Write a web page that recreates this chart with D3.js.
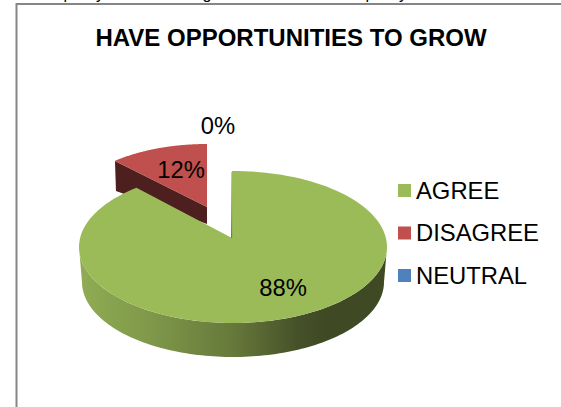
<!DOCTYPE html>
<html>
<head>
<meta charset="utf-8">
<script src="https://cdn.jsdelivr.net/npm/d3@7"></script>
<style>
  html, body { margin: 0; padding: 0; background: #fff; }
  svg { display: block; }
  text { font-family: "Liberation Sans", Arial, sans-serif; fill: #000; }
</style>
</head>
<body>
<svg id="chart" width="561" height="407"></svg>
<script>
const chartTitle = "HAVE OPPORTUNITIES TO GROW";
const categories = ["AGREE", "DISAGREE", "NEUTRAL"];
const shares = [88, 12, 0];
const sliceColors = ["#9bbb59", "#c0504d", "#4f81bd"];

const svg = d3.select("#chart");
const color = d3.scaleOrdinal(categories, sliceColors);
const slices = d3.pie().sort(null).value(d => d.share)(
  categories.map((name, i) => ({ name, share: shares[i] }))
);
const sliceOf = name => slices.find(s => s.data.name === name);

// Each slice lies on a tilted disc: an ellipse whose perspective centre (apex)
// sits away from the ellipse's own centre.
const greenDisc = { cx: 233, cy: 247, rx: 154, ry: 76, ax: 232, ay: 238 };
const redDisc = { cx: 207, cy: 208, rx: 136, ry: 64, ax: 207, ay: 207 };

// Where the ray leaving the apex at pie angle t meets the ellipse rim,
// solved on the unit circle and scaled back to the ellipse.
function rim(disc, t) {
  const ux = Math.sin(t), uy = -Math.cos(t);
  const ox = (disc.ax - disc.cx) / disc.rx, oy = (disc.ay - disc.cy) / disc.ry;
  const b = 2 * (ox * ux + oy * uy), c = ox * ox + oy * oy - 1;
  const k = (-b + Math.sqrt(b * b - 4 * c)) / 2;
  return [disc.cx + (ox + k * ux) * disc.rx, disc.cy + (oy + k * uy) * disc.ry];
}

const line = d3.line();
const samples = (a, b, n = 120) => d3.range(n + 1).map(i => a + (b - a) * i / n);
const topFace = (disc, slice) => line(
  [[disc.ax, disc.ay], ...samples(slice.startAngle, slice.endAngle).map(t => rim(disc, t))]
) + "Z";

// Horizontal shading across the rounded side wall of the large slice.
const defs = svg.append("defs");
const wallShade = defs.append("linearGradient")
  .attr("id", "wallShade").attr("gradientUnits", "userSpaceOnUse")
  .attr("x1", 80).attr("x2", 386).attr("y1", 0).attr("y2", 0);
[[0, "#8fac53"], [0.22, "#80994a"], [0.5, "#66793a"], [0.72, "#454f28"], [0.8, "#3f4a24"], [1, "#3f4a24"]]
  .forEach(([o, c]) => wallShade.append("stop").attr("offset", o).attr("stop-color", c));

// Page frame and the clipped descenders of the line above it.
const frame = svg.append("g");
[["p", 68], ["y", 100], ["g", 207], ["p", 370], ["y", 403]].forEach(([ch, x]) => {
  frame.append("text").attr("x", x).attr("y", -1).attr("text-anchor", "middle")
    .style("font-size", "16px").text(ch);
});
frame.append("path")
  .attr("d", line([[16.5, 407], [16.5, 4], [561, 4]]))
  .attr("fill", "none").attr("stroke", "#868686").attr("stroke-width", 2);

svg.append("text").attr("x", 291).attr("y", 46).attr("text-anchor", "middle")
  .style("font-size", "24px").style("font-weight", "bold").text(chartTitle);

// Small slice first, since the large one overlaps its cut wall.
const red = sliceOf("DISAGREE");
const redOuter = rim(redDisc, red.startAngle);
svg.append("path")
  .attr("d", line([redOuter, [redDisc.ax, redDisc.ay], [redDisc.ax, redDisc.ay + 17], [redOuter[0] + 1, redOuter[1] + 30]]) + "Z")
  .attr("fill", "#4d1f1e");
svg.append("path").attr("d", topFace(redDisc, red)).attr("fill", color("DISAGREE"));

// Large slice: side wall between the lower and upper rims, then the top face.
const green = sliceOf("AGREE");
const wallTop = samples(Math.PI / 2, 3 * Math.PI / 2).map(t =>
  [greenDisc.cx + greenDisc.rx * Math.sin(t), greenDisc.cy - greenDisc.ry * Math.cos(t)]);
const wallBottom = samples(3 * Math.PI / 2, Math.PI / 2).map(t =>
  [greenDisc.cx + 151 * Math.sin(t), greenDisc.cy + 35 - 75 * Math.cos(t)]);
svg.append("path").attr("d", line([...wallTop, ...wallBottom]) + "Z").attr("fill", "url(#wallShade)");
svg.append("path").attr("d", topFace(greenDisc, green)).attr("fill", color("AGREE"));

// Cut edge of the large slice, seen almost edge-on.
defs.append("linearGradient").attr("id", "cutEdge")
  .attr("gradientUnits", "userSpaceOnUse").attr("x1", 0).attr("x2", 0).attr("y1", 171).attr("y2", 238)
  .selectAll("stop").data([[0, "#b5c88a"], [0.6, "#7f8f5a"], [1, "#4a5530"]]).join("stop")
  .attr("offset", d => d[0]).attr("stop-color", d => d[1]);
svg.append("rect").attr("x", greenDisc.ax - 0.8).attr("y", 172).attr("width", 0.9).attr("height", 66)
  .attr("fill", "url(#cutEdge)");

// Share labels.
const labelAt = { AGREE: [283, 296], DISAGREE: [181, 178], NEUTRAL: [218, 134] };
slices.forEach(s => {
  const [x, y] = labelAt[s.data.name];
  svg.append("text").attr("x", x).attr("y", y).attr("text-anchor", "middle")
    .style("font-size", "23.8px").text(`${s.data.share}%`);
});

// Legend.
const legendY = d3.scalePoint(categories, [184, 269]);
const legend = svg.append("g").selectAll("g").data(categories).join("g")
  .attr("transform", d => `translate(398,${legendY(d)})`);
legend.append("rect").attr("width", 13).attr("height", 13).attr("fill", d => color(d));
legend.append("text").attr("x", 18).attr("y", 14.5).style("font-size", "23.8px").text(d => d);
</script>
</body>
</html>
